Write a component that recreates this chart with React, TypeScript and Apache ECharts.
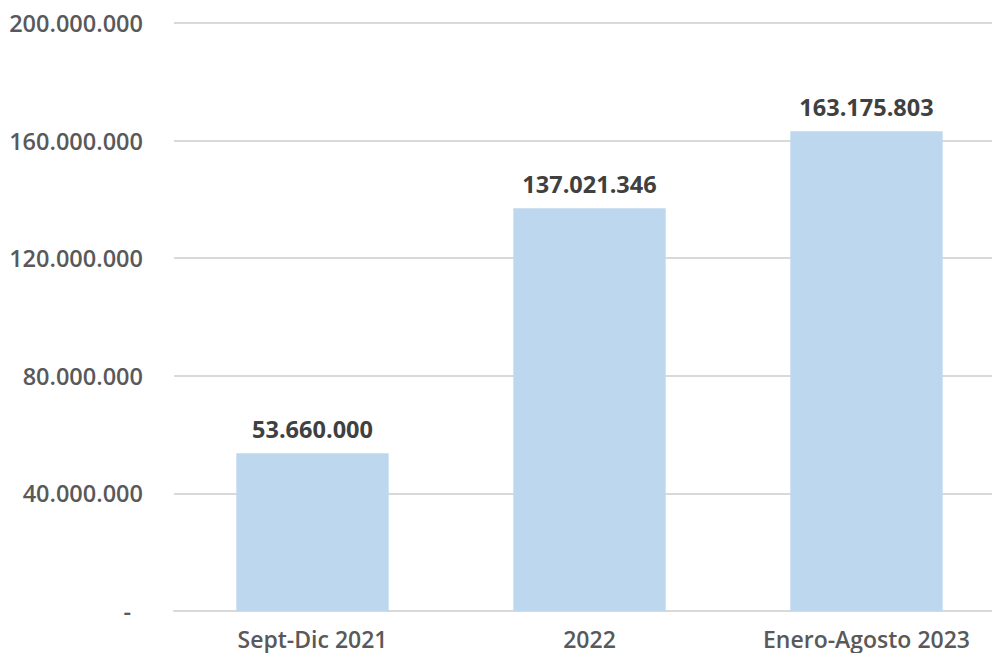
import React, { useEffect, useRef } from "react";
import * as echarts from "echarts";

const categories = ["Sept-Dic 2021", "2022", "Enero-Agosto 2023"];
const values = [53660000, 137021346, 163175803];
const yTicks = { min: 0, max: 200000000, interval: 40000000 };

const fmt = (v: number) => String(Math.round(v)).replace(/\B(?=(\d{3})+(?!\d))/g, ".");

export default function App() {
  const ref = useRef<HTMLDivElement>(null);
  useEffect(() => {
    if (!ref.current) return;
    const chart = echarts.init(ref.current, null, { renderer: "svg" });
    const font = "'Open Sans', 'Liberation Sans', sans-serif";
    chart.setOption({
      animation: false,
      grid: { left: 174, right: 0, top: 23, bottom: 42, containLabel: false },
      xAxis: {
        type: "category",
        data: categories,
        axisLine: { show: true, lineStyle: { color: "#D9D9D9", width: 2 } },
        axisTick: { show: false },
        axisLabel: {
          color: "#595959",
          fontFamily: font,
          fontWeight: 600,
          fontSize: 23,
          margin: 16,
        },
      },
      yAxis: {
        type: "value",
        min: yTicks.min,
        max: yTicks.max,
        interval: yTicks.interval,
        axisLine: { show: false },
        axisTick: { show: false },
        splitLine: { lineStyle: { color: "#D9D9D9", width: 2 } },
        axisLabel: {
          color: "#595959",
          fontFamily: font,
          fontWeight: 600,
          fontSize: 23.5,
          margin: 31,
          formatter: (v: number) => (v === 0 ? "{d|-}" : fmt(v)),
          rich: {
            d: { color: "#595959", fontFamily: font, fontWeight: 600, fontSize: 23.5, padding: [0, 12, 0, 0] },
          },
        },
      },
      series: [
        {
          type: "bar",
          data: values,
          barWidth: "55%",
          itemStyle: { color: "#BDD7EE" },
          label: {
            show: true,
            position: "top",
            distance: 12,
            color: "#404040",
            fontFamily: font,
            fontWeight: 700,
            fontSize: 23.5,
            formatter: (p: any) => fmt(p.value),
          },
        },
      ],
    });
    return () => chart.dispose();
  }, []);
  return (
    <div
      ref={ref}
      style={{ position: "fixed", left: 0, top: 0, width: 1005, height: 653, background: "#fff" }}
    />
  );
}
